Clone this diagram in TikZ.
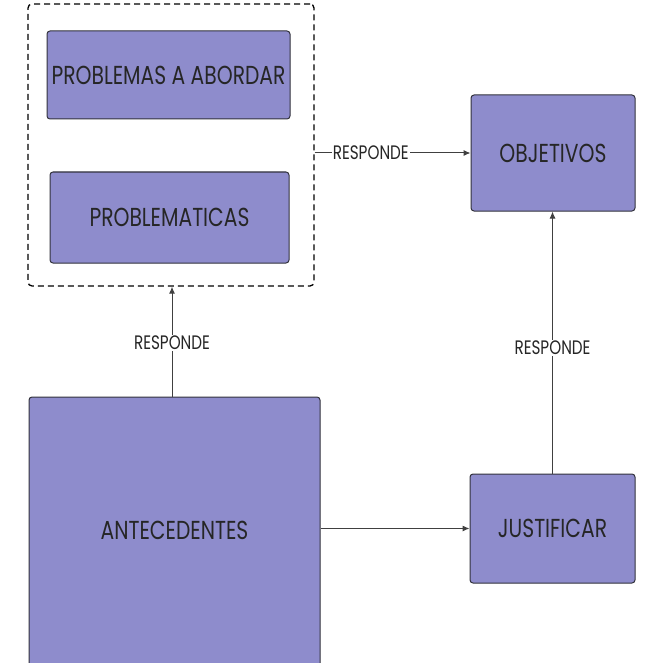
\documentclass[tikz,border=0pt]{standalone}
\usepackage{fontspec}
\setmainfont{Poppins}[FakeStretch=0.78]
\usepackage{tikz}
\usetikzlibrary{calc}
\usetikzlibrary{arrows.meta}

\definecolor{boxfill}{RGB}{142,140,204}
\definecolor{boxline}{RGB}{50,50,60}

\tikzset{
    blockbox/.style={draw=boxline, line width=1pt, fill=boxfill, rounded corners=3pt,
        inner sep=0pt, font=\fontsize{26}{29}\selectfont, text=black!85},
    arrowline/.style={draw=black!75, line width=1pt, -{Latex[length=7pt,width=6pt]}},
    linklabel/.style={fill=white, inner sep=1pt, font=\fontsize{19.5}{22}\selectfont, text=black!85}
}

\begin{document}
\begin{tikzpicture}[x=1pt, y=-1pt]
    \useasboundingbox (0,0) rectangle (647,663);
    % grupo de problemas
    \node[draw=black, line width=1.3pt, dashed, dash pattern=on 6pt off 4pt, rounded corners=4pt,
        minimum width=286pt, minimum height=282pt, inner sep=0pt] (grupo) at (171,145) {};
    \node[blockbox, minimum width=243pt, minimum height=88pt] (abordar) at (168.5,75) {PROBLEMAS A ABORDAR};
    \node[blockbox, minimum width=239pt, minimum height=91pt] (problematicas) at (169.5,217.5) {PROBLEMATICAS};
    % lado derecho
    \node[blockbox, minimum width=164pt, minimum height=116pt] (objetivos) at (553,153) {OBJETIVOS};
    \node[blockbox, minimum width=165pt, minimum height=109pt] (justificar) at (552.5,528.5) {JUSTIFICAR};
    % antecedentes (sale por abajo)
    \node[blockbox, minimum width=291pt, minimum height=300pt] (antecedentes) at (174.5,547) {};
    \node[font=\fontsize{26}{29}\selectfont, text=black!85] (antetexto) at (174.5,530) {ANTECEDENTES};
    \coordinate (salida) at (172,397);
    % conexiones
    \draw[arrowline] (grupo.east |- objetivos.west) -- (objetivos.west)
        node[linklabel, pos=0.36] {RESPONDE};
    \draw[arrowline] (salida) -- (salida |- grupo.south)
        node[linklabel, pos=0.49] {RESPONDE};
    \draw[arrowline] (justificar.north) -- (justificar.north |- objetivos.south)
        node[linklabel, pos=0.48] {RESPONDE};
    \draw[arrowline] (antecedentes.east |- justificar.west) -- (justificar.west);
\end{tikzpicture}
\end{document}
